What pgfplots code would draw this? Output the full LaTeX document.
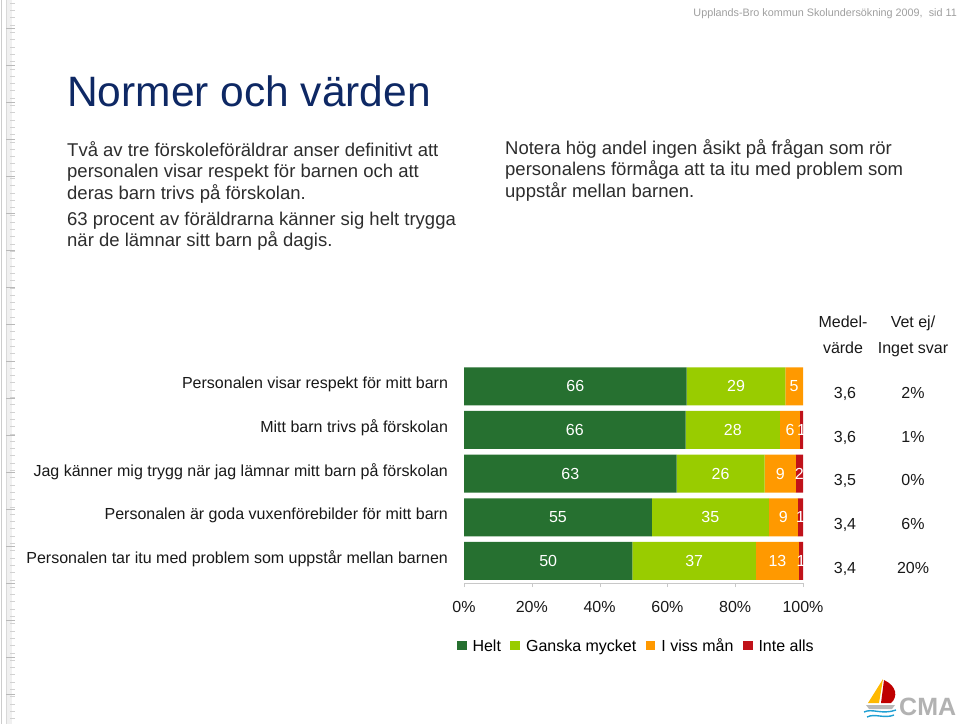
\documentclass[border=0pt]{standalone}
\usepackage{pgfplots}
\pgfplotsset{compat=1.18}
\usepackage{pgfplotstable}
\usepackage{fontspec}
\setmainfont{Liberation Sans}

\definecolor{helt}{RGB}{38,112,48}
\definecolor{ganska}{RGB}{153,204,0}
\definecolor{viss}{RGB}{255,153,0}
\definecolor{inte}{RGB}{192,18,26}
\definecolor{titleblue}{RGB}{14,40,100}
\definecolor{bodytext}{RGB}{45,45,45}
\definecolor{axisgray}{RGB}{200,200,200}

\pgfplotsset{sqleg/.style={legend image code/.code={\fill[##1] (0pt,-1.3pt) rectangle (9.6pt,8.3pt);}}}

% row 4 = top bar; val = bar length in %, lab = printed number
\pgfplotstableread{
row val lab
4 65.7 66
3 65.4 66
2 62.7 63
1 55.4 55
0 49.7 50
}\helt
\pgfplotstableread{
row val lab
4 29.1 29
3 27.8 28
2 26.0 26
1 34.5 35
0 36.4 37
}\ganska
\pgfplotstableread{
row val lab
4 5.2 5
3 5.9 6
2 9.2 9
1 8.6 9
0 12.7 13
}\viss
\pgfplotstableread{
row val lab
4 0.0 0
3 0.9 1
2 2.1 2
1 1.5 1
0 1.2 1
}\inte

\newcommand{\fs}[1]{\fontsize{#1}{#1}\selectfont}

\begin{document}
\begin{tikzpicture}[x=1pt,y=-1pt]
\useasboundingbox (0,0) rectangle (960,724);
\fill[white] (0,0) rectangle (960,724);

% ruler strip at the left edge
\fill[gray!12] (6.5,0) rectangle (11.5,724);
\draw[gray!40, line width=0.6] (1.7,0) -- (1.7,724);
\draw[gray!30, line width=0.5] (6.5,0) -- (6.5,724);
\foreach \t in {3,10.3,...,724} \draw[gray!35, line width=0.4] (10,\t) -- (15,\t);
\foreach \t in {28,65,...,724} \draw[gray!55, line width=0.6] (6,\t) -- (15,\t);

% header
\node[anchor=base east, inner sep=0, text=gray!75, font=\fs{10.8}] at (957,16) {Upplands-Bro kommun Skolundersökning 2009,\ \ sid 11};

% title and text
\node[anchor=base west, inner sep=0, text=titleblue, font=\fs{42.5}] at (67,106.7) {Normer och värden};
\begin{scope}[every node/.style={anchor=base west, inner sep=0, text=bodytext, font=\fs{18.5}}]
\node at (67,156) {Två av tre förskoleföräldrar anser definitivt att};
\node at (67,177.5) {personalen visar respekt för barnen och att};
\node at (67,199) {deras barn trivs på förskolan.};
\node at (67,225) {63 procent av föräldrarna känner sig helt trygga};
\node at (67,246.5) {när de lämnar sitt barn på dagis.};
\node at (505,154) {Notera hög andel ingen åsikt på frågan som rör};
\node at (505,175.5) {personalens förmåga att ta itu med problem som};
\node at (505,197) {uppstår mellan barnen.};
\end{scope}

% side columns
\begin{scope}[every node/.style={anchor=base, inner sep=0, text=black!90, font=\fs{16}}]
\node at (843,327.7) {Medel-};
\node at (843,353.5) {värde};
\node at (913,327.7) {Vet ej/};
\node at (913,353.5) {Inget svar};
\node at (845,398.4) {3,6};  \node at (913,398.4) {2\%};
\node at (845,442.4) {3,6};  \node at (913,442.4) {1\%};
\node at (845,485.7) {3,5};  \node at (913,485.7) {0\%};
\node at (845,529.7) {3,4};  \node at (913,529.7) {6\%};
\node at (845,573.7) {3,4};  \node at (913,573.7) {20\%};
\end{scope}

\begin{axis}[
  at={(464pt,-582.7pt)}, anchor=south west,
  width=339pt, height=218.2pt, scale only axis,
  xbar stacked, bar width=38pt,
  xmin=0, xmax=100, ymin=-0.5, ymax=4.5,
  axis x line*=bottom, axis y line*=left,
  x axis line style={draw=axisgray, -}, y axis line style={draw=none},
  xtick={0,20,40,60,80,100},
  xticklabels={0\%,20\%,40\%,60\%,80\%,100\%},
  tick align=outside, major tick length=4.5pt,
  xtick style={draw=axisgray},
  ytick={0,1,2,3,4}, ytick style={draw=none},
  yticklabels={Personalen tar itu med problem som uppstår mellan barnen,
    Personalen är goda vuxenförebilder för mitt barn,
    Jag känner mig trygg när jag lämnar mitt barn på förskolan,
    Mitt barn trivs på förskolan,
    Personalen visar respekt för mitt barn},
  ticklabel style={font=\fs{16}, text=black!90},
  yticklabel style={xshift=-8pt, yshift=2pt},
  xticklabel style={yshift=-11pt},
  clip=false,
  /pgf/number format/assume math mode=true,
  point meta=explicit,
  nodes near coords,
  every node near coord/.append style={anchor=center, text=white, font=\fs{16}},
  legend columns=4,
  legend style={at={(0.509,-0.3)}, anchor=center, draw=none, fill=none,
    font=\fs{16}, inner sep=0pt,
    nodes={text height=0.72em, text depth=0.2em, inner xsep=2.5pt},
    /tikz/every odd column/.append style={column sep=3.5pt},
    /tikz/every even column/.append style={column sep=7pt}},
]
\addplot[fill=helt, draw=none, sqleg] table[x=val, y=row, meta=lab]{\helt};
\addplot[fill=ganska, draw=none, sqleg] table[x=val, y=row, meta=lab]{\ganska};
\addplot[fill=viss, draw=none, sqleg] table[x=val, y=row, meta=lab]{\viss};
\addplot[fill=inte, draw=none, sqleg] table[x=val, y=row, meta=lab]{\inte};
\legend{Helt, Ganska mycket, I viss mån, Inte alls}
\end{axis}

% CMA logo
\fill[orange!55!yellow] (868,703) -- (883,679) -- (879,703) -- cycle;
\fill[red!75!black] (884,680) .. controls (897,686) and (898,697) .. (891,703) -- (881,703) -- cycle;
\fill[gray!55] (866,705) -- (895,705) -- (892,709) -- (869,709) -- cycle;
\draw[cyan!70!teal, line width=1.4] (864,712) .. controls (872,708) and (882,715) .. (896,710);
\draw[cyan!70!teal, line width=1.4] (867,717) .. controls (875,713) and (884,719) .. (894,715);
\node[anchor=base west, inner sep=0, text=gray!60, font=\bfseries\fs{25}] at (899,715) {CMA};
\end{tikzpicture}
\end{document}
